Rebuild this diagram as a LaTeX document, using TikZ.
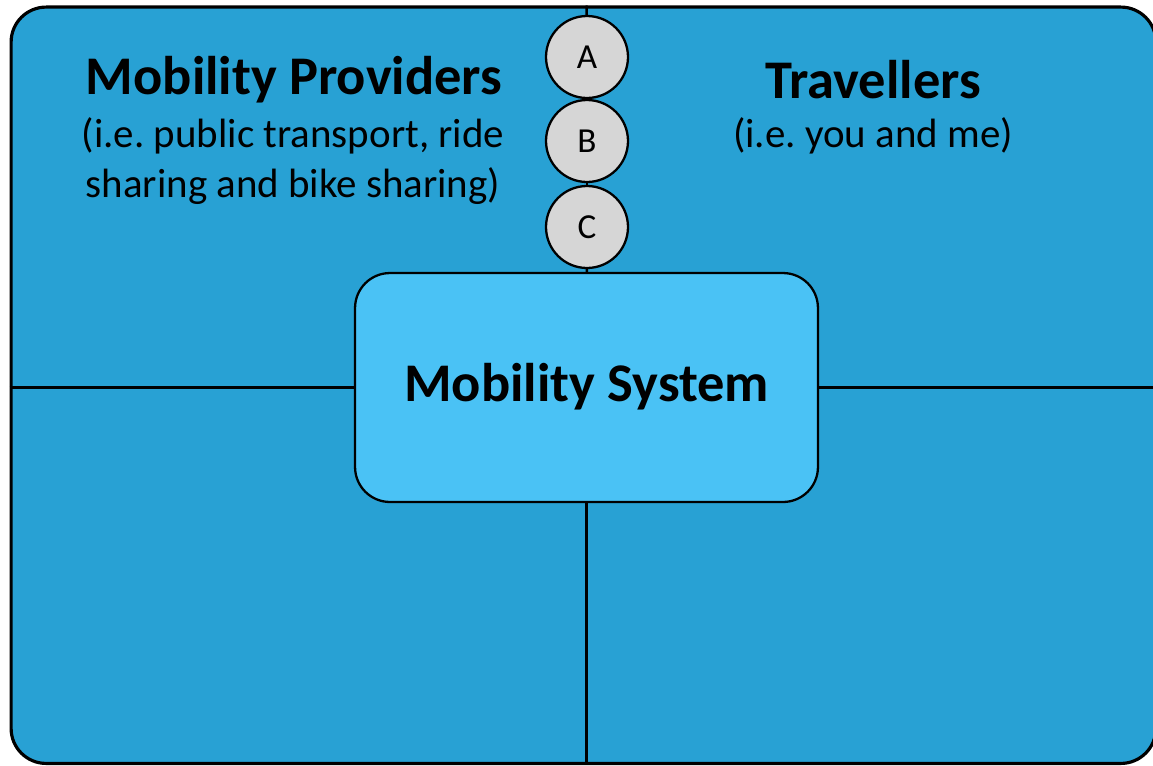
\documentclass[tikz,border=0pt]{standalone}
\usepackage{fontspec}
\setmainfont{Carlito}
\frenchspacing
\begin{document}
\begin{tikzpicture}[x=0.02cm,y=-0.02cm]
    \definecolor{mob_bg}{RGB}{40,161,212}
    \definecolor{mob_core}{RGB}{74,194,245}
    \definecolor{mob_step}{RGB}{214,214,214}
    \tikzset{
        quad/.style={shape=rectangle,draw,line width=1.8pt,fill=mob_bg,rounded corners=0.7cm},
        corebox/.style={shape=rectangle,draw,line width=1.3pt,fill=mob_core,rounded corners=0.7cm,font=\fontsize{31}{36}\selectfont\bfseries},
        stepdot/.style={shape=circle,draw,line width=1.3pt,fill=mob_step,minimum size=1.64cm,inner sep=0pt,font=\fontsize{20}{24}\selectfont},
        divider/.style={line width=1.4pt},
        heading/.style={font=\fontsize{31}{36}\selectfont\bfseries},
        subtext/.style={align=center,font=\fontsize{23.3}{28.3}\selectfont}
    }
    \useasboundingbox (0,0) rectangle (1153,765);
    \clip (0,0) rectangle (1153,765);
    \node[quad,minimum width=22.9cm,minimum height=15.13cm] (frame) at (583.5,385.25) {};
    \node[corebox,minimum width=9.26cm,minimum height=4.58cm] (core) at (586.5,387.5) {\raisebox{0.2cm}{Mobility System}};
    \node[stepdot] (a) at (587,57) {A};
    \node[stepdot] (b) at (587,141) {B};
    \node[stepdot] (c) at (587,227) {C};
    \draw[divider] (core.north |- frame.north) to (a);
    \draw[divider] (a) to (b);
    \draw[divider] (b) to (c);
    \draw[divider] (c) to (core);
    \draw[divider] (core.south) to (core.south |- frame.south);
    \draw[divider] (frame.west |- core.west) to (core.west);
    \draw[divider] (core.east) to (core.east -| frame.east);
    \node[heading] (providers) at (294,80) {Mobility Providers};
    \node[subtext] (providersnote) at (293,161) {(i.e. public transport, ride\\sharing and bike sharing)};
    \node[heading] (travellers) at (873,80) {Travellers};
    \node[subtext] (travellersnote) at (873,136) {(i.e. you and me)};
\end{tikzpicture}
\end{document}
